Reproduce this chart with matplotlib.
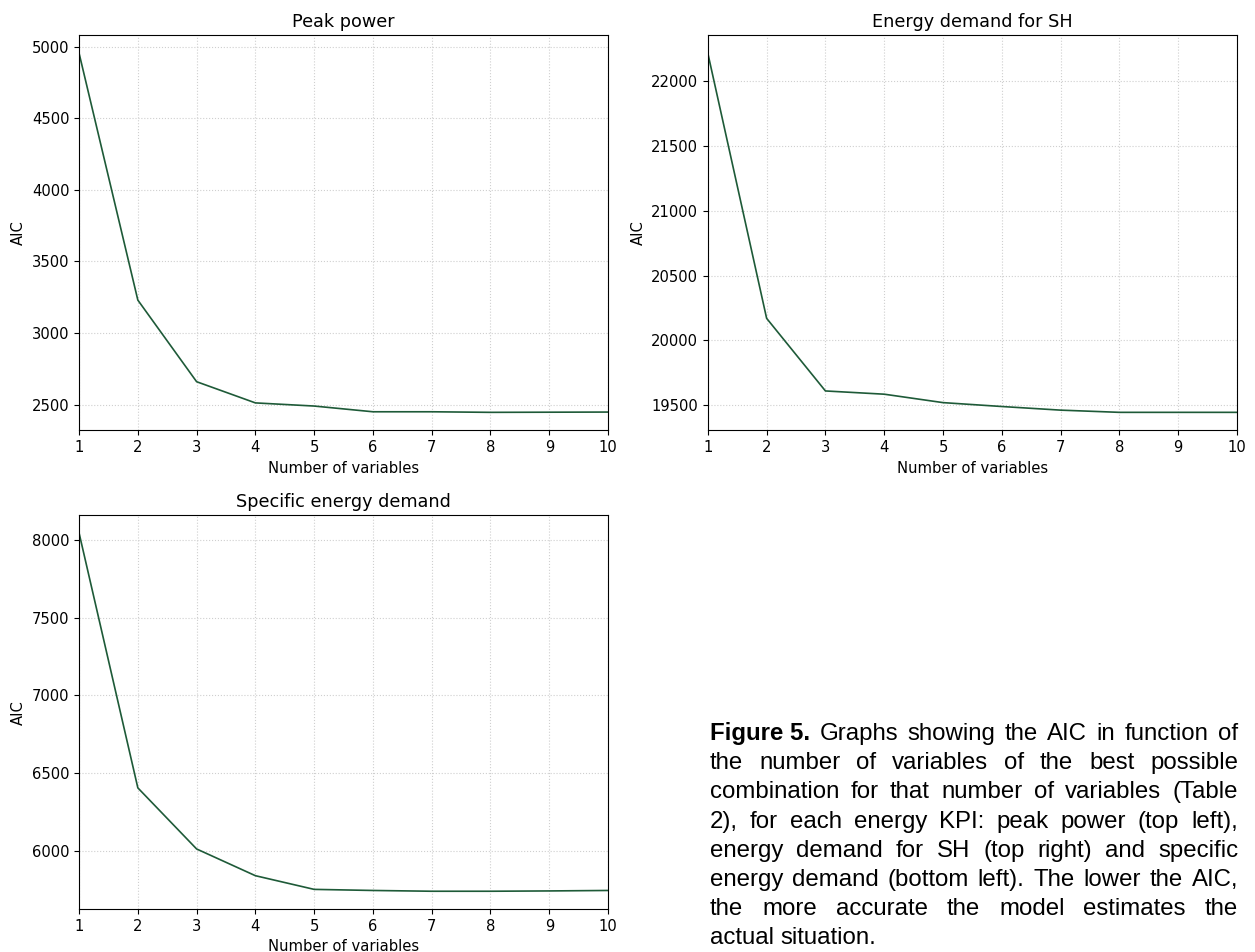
import matplotlib
matplotlib.use('Agg')
import matplotlib.pyplot as plt


n_vars = [1, 2, 3, 4, 5, 6, 7, 8, 9, 10]
peak_power = [4955, 3230, 2660, 2512, 2490, 2450, 2450, 2446, 2447, 2448]
energy_sh = [22215, 20170, 19610, 19585, 19520, 19490, 19462, 19445, 19445, 19445]
specific_energy = [8045, 6405, 6012, 5840, 5752, 5745, 5740, 5740, 5742, 5745]

titles = ['Peak power', 'Energy demand for SH', 'Specific energy demand']
caption_lines = [
    'Graphs showing the AIC in function of',
    'the number of variables of the best possible',
    'combination for that number of variables (Table',
    '2), for each energy KPI: peak power (top left),',
    'energy demand for SH (top right) and specific',
    'energy demand (bottom left). The lower the AIC,',
    'the more accurate the model estimates the',
    'actual situation.',
]

LINE_COLOR = '#1e5a38'


def draw_panel(ax, values, title):
    ax.plot(n_vars, values, color=LINE_COLOR, linewidth=1.2)
    ax.set_xlim(1, 10)
    ax.set_xticks(n_vars)
    ax.grid(color='#cfcfcf', linestyle=':', linewidth=0.8)
    ax.set_title(title, fontsize=12.7)
    ax.set_xlabel('Number of variables', fontsize=10.6)
    ax.set_ylabel('AIC', fontsize=10.6)
    ax.tick_params(labelsize=10.6)


def justified_caption(fig, lines, x0, x1, y0, dy, size):
    renderer = fig.canvas.get_renderer()
    W = 1255.0
    for i, line in enumerate(lines):
        y = y0 - i * dy
        words = line.split(' ')
        texts = []
        if i == 0:
            texts.append(fig.text(x0, y, 'Figure 5.', fontsize=size, fontweight='bold',
                                  family='Liberation Sans', va='baseline'))
        for w in words:
            texts.append(fig.text(x0, y, w, fontsize=size, family='Liberation Sans',
                                  va='baseline'))
        widths = [t.get_window_extent(renderer).width / W for t in texts]
        if i == len(lines) - 1:
            sp = fig.text(0, 0, 'a b', fontsize=size, family='Liberation Sans')
            ab = fig.text(0, 0, 'ab', fontsize=size, family='Liberation Sans')
            gap = (sp.get_window_extent(renderer).width - ab.get_window_extent(renderer).width) / W
            sp.remove()
            ab.remove()
        else:
            gap = (x1 - x0 - sum(widths)) / (len(texts) - 1)
        x = x0
        for t, w in zip(texts, widths):
            t.set_x(x)
            x += w + gap


fig = plt.figure(figsize=(12.55, 9.52), dpi=100)
ax1 = fig.add_axes([0.063, 0.548, 0.4215, 0.415])
ax2 = fig.add_axes([0.564, 0.548, 0.4217, 0.415])
ax3 = fig.add_axes([0.063, 0.045, 0.4215, 0.414])

for ax, vals, title in zip([ax1, ax2, ax3], [peak_power, energy_sh, specific_energy], titles):
    draw_panel(ax, vals, title)

justified_caption(fig, caption_lines, 0.5657, 0.9865, 1 - 740 / 952, 29.2 / 952, 17.3)

fig.savefig('out.png', dpi=100)
